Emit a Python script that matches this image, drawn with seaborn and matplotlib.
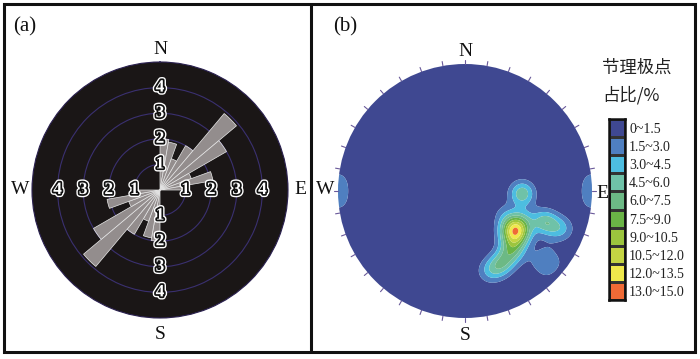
import numpy as np
import matplotlib
matplotlib.use("Agg")
import matplotlib.pyplot as plt
import matplotlib.patheffects as pe
from matplotlib.colors import ListedColormap, BoundaryNorm
from matplotlib.patches import Circle, Rectangle
import seaborn as sns

sns.set_theme(style="white")
plt.rcParams['font.family'] = ['Liberation Serif', 'Noto Sans CJK SC', 'DejaVu Sans']

# ---------------- data ----------------
# rose diagram (a): joint strike frequency per 10 deg bin (0-180), bidirectional
bin_start_deg = [0, 10, 20, 30, 40, 50, 60, 70, 80, 90, 100, 110, 120, 130, 140, 150, 160, 170]
strike_freq = [2.0, 1.9, 1.3, 2.0, 3.9, 3.0, 1.3, 2.1, 1.0, 0, 0, 0, 0, 0, 0, 0, 0, 0]
ring_labels = ["1", "2", "3", "4"]
compass = ["N", "E", "S", "W"]

# pole density (b): pole positions on the equal-area net (unit circle) and counts
pole_x = [0.40, 0.36, 0.44, 0.35, 0.43, 0.39,
          0.37, 0.33, 0.28, 0.22, 0.17, 0.30, 0.46,
          0.45, 0.62, 0.70, 0.77,
          0.64, 0.56, 0.72, 0.64,
          0.995, 0.995, 1.00, 1.00]
pole_y = [-0.31, -0.26, -0.27, -0.34, -0.35, -0.42,
          -0.47, -0.53, -0.58, -0.62, -0.64, -0.17, -0.20,
          -0.02, -0.24, -0.28, -0.30,
          -0.48, -0.56, -0.56, -0.64,
          0.10, -0.10, 0.03, -0.03]
pole_n = [3, 3, 3, 3, 3, 2,
          3, 2, 3, 2, 1, 1, 1,
          5, 4, 2, 2,
          1, 1, 1, 1,
          1, 1, 1, 1]
total_poles = 92
density_levels = [0, 1.5, 3.0, 4.5, 6.0, 7.5, 9.0, 10.5, 12.0, 13.5, 15.0]
level_labels = ["0~1.5", "1.5~3.0", "3.0~4.5", "4.5~6.0", "6.0~7.5", "7.5~9.0",
                "9.0~10.5", "10.5~12.0", "12.0~13.5", "13.0~15.0"]
level_colors = ["#3f4891", "#4f7fc0", "#4dbde0", "#6fc2a8", "#6cb985", "#6ab446",
                "#9cc53e", "#c4d443", "#efe84c", "#ef6a36"]

W, H = 700, 359
fig = plt.figure(figsize=(7.0, 3.59), dpi=100)
fig.patch.set_facecolor("white")

def frac_rect(x0, y0, w, h):
    return [x0 / W, (H - y0 - h) / H, w / W, h / H]

# panel frames
frame = fig.add_axes([0, 0, 1, 1], zorder=-5)
frame.set_xlim(0, W); frame.set_ylim(H, 0); frame.axis("off")
frame.add_patch(Rectangle((4, 4), 691, 348, fill=False, lw=2.2, ec="#111"))
frame.plot([311, 311], [4, 352], color="#111", lw=2.2)

tick_col = "#6a5a9a"

# ---------------- (a) rose ----------------
axa = fig.add_axes(frac_rect(160 - 128, 190 - 128, 256, 256), projection="polar")
axa.set_theta_zero_location("N")
axa.set_theta_direction(-1)
axa.set_facecolor("#1a1616")
theta = np.deg2rad(np.array(bin_start_deg + [b + 180 for b in bin_start_deg]))
vals = np.array(strike_freq + strike_freq)
axa.bar(theta, vals, width=np.deg2rad(10), align="edge", color="#938d8d",
        edgecolor="#e8e8e8", linewidth=0.5, zorder=3)
axa.set_ylim(0, 5)
axa.set_yticks([1, 2, 3, 4])
axa.set_yticklabels([])
axa.yaxis.grid(True, color="#3a3070", lw=0.8)
axa.xaxis.grid(False)
axa.set_xticks(np.deg2rad(np.arange(0, 360, 10)))
axa.set_xticklabels([])
axa.tick_params(axis="x", direction="out", length=4, width=0.8, colors=tick_col, pad=0)
axa.spines["polar"].set_color("#2a2050")
axa.spines["polar"].set_linewidth(0.8)
effects = [pe.Stroke(linewidth=4.5, foreground="white"),
           pe.Stroke(linewidth=2.5, foreground="#111"), pe.Normal()]
for ang in [0, 90, 180, 270]:
    for i, lab in enumerate(ring_labels):
        axa.text(np.deg2rad(ang), i + 1, lab, ha="center", va="center", fontsize=12.5,
                 fontweight="bold", color="white", zorder=6, path_effects=effects)
for lab, (x, y) in zip(compass, [(0.5, 1.05), (1.048, 0.5), (0.5, -0.065), (-0.047, 0.5)]):
    axa.text(x, y, lab, transform=axa.transAxes, ha="center", va="center", fontsize=14,
             color="#111")
fig.text(13 / W, 1 - 27 / H, "(a)", fontsize=15, color="#111", va="center", ha="left")

# ---------------- (b) pole density ----------------
axb = fig.add_axes(frac_rect(465 - 127, 191 - 127, 254, 254))
axb.set_xlim(-1, 1); axb.set_ylim(-1, 1); axb.set_aspect("equal")
axb.axis("off")
g = np.linspace(-1, 1, 301)
GX, GY = np.meshgrid(g, g)
sigma = 0.07
dens = np.zeros_like(GX)
for x0, y0, n in zip(pole_x, pole_y, pole_n):
    centres = [(x0, y0)]
    if np.hypot(x0, y0) > 0.97:  # counting circle wraps across the primitive
        centres.append((-x0, -y0))
    for cx, cy in centres:
        d2 = (GX - cx) ** 2 + (GY - cy) ** 2
        dens += (n / total_poles) * np.exp(-d2 / (2 * sigma ** 2)) / (2 * sigma ** 2)
cmap = ListedColormap(level_colors)
norm = BoundaryNorm(density_levels, cmap.N)
cf = axb.contourf(GX, GY, np.clip(dens, 0, 14.99), levels=density_levels, cmap=cmap,
                  norm=norm, antialiased=True)
clip = Circle((0, 0), 1.0, transform=axb.transData)
cf.set_clip_path(clip)
for a in np.deg2rad(np.arange(0, 360, 10)):
    axb.plot([np.sin(a) * 1.0, np.sin(a) * 1.035], [np.cos(a) * 1.0, np.cos(a) * 1.035],
             color=tick_col, lw=0.8, clip_on=False)
for lab, (x, y) in zip(compass, [(465, 52), (602, 193), (465, 335), (325, 190)]):
    fig.text(x / W, 1 - y / H, lab, ha="center", va="center", fontsize=14, color="#111")
fig.text(333 / W, 1 - 27 / H, "(b)", fontsize=15, color="#111", va="center", ha="left")
fig.text(602 / W, 1 - 68 / H, "节理极点", fontsize=12.5, color="#222", va="center", ha="left",
         family=["Noto Sans CJK SC", "DejaVu Sans"])
fig.text(602 / W, 1 - 95 / H, "占比/%", fontsize=12.5, color="#222", va="center", ha="left",
         family=["Noto Sans CJK SC", "DejaVu Sans"])

# legend colorbar as heatmap
axc = fig.add_axes(frac_rect(609, 119, 16, 181))
sns.heatmap(np.arange(10).reshape(10, 1), cmap=cmap, cbar=False, linewidths=0.8,
            linecolor="#333", ax=axc, xticklabels=False, yticklabels=level_labels)
axc.yaxis.tick_right()
axc.tick_params(axis="y", length=0, pad=3, labelsize=10, labelcolor="#222")
for t in axc.get_yticklabels():
    t.set_rotation(0)
for s in axc.spines.values():
    s.set_visible(True); s.set_linewidth(1.8); s.set_color("#111")

fig.savefig("out.png", dpi=100, facecolor="white")
